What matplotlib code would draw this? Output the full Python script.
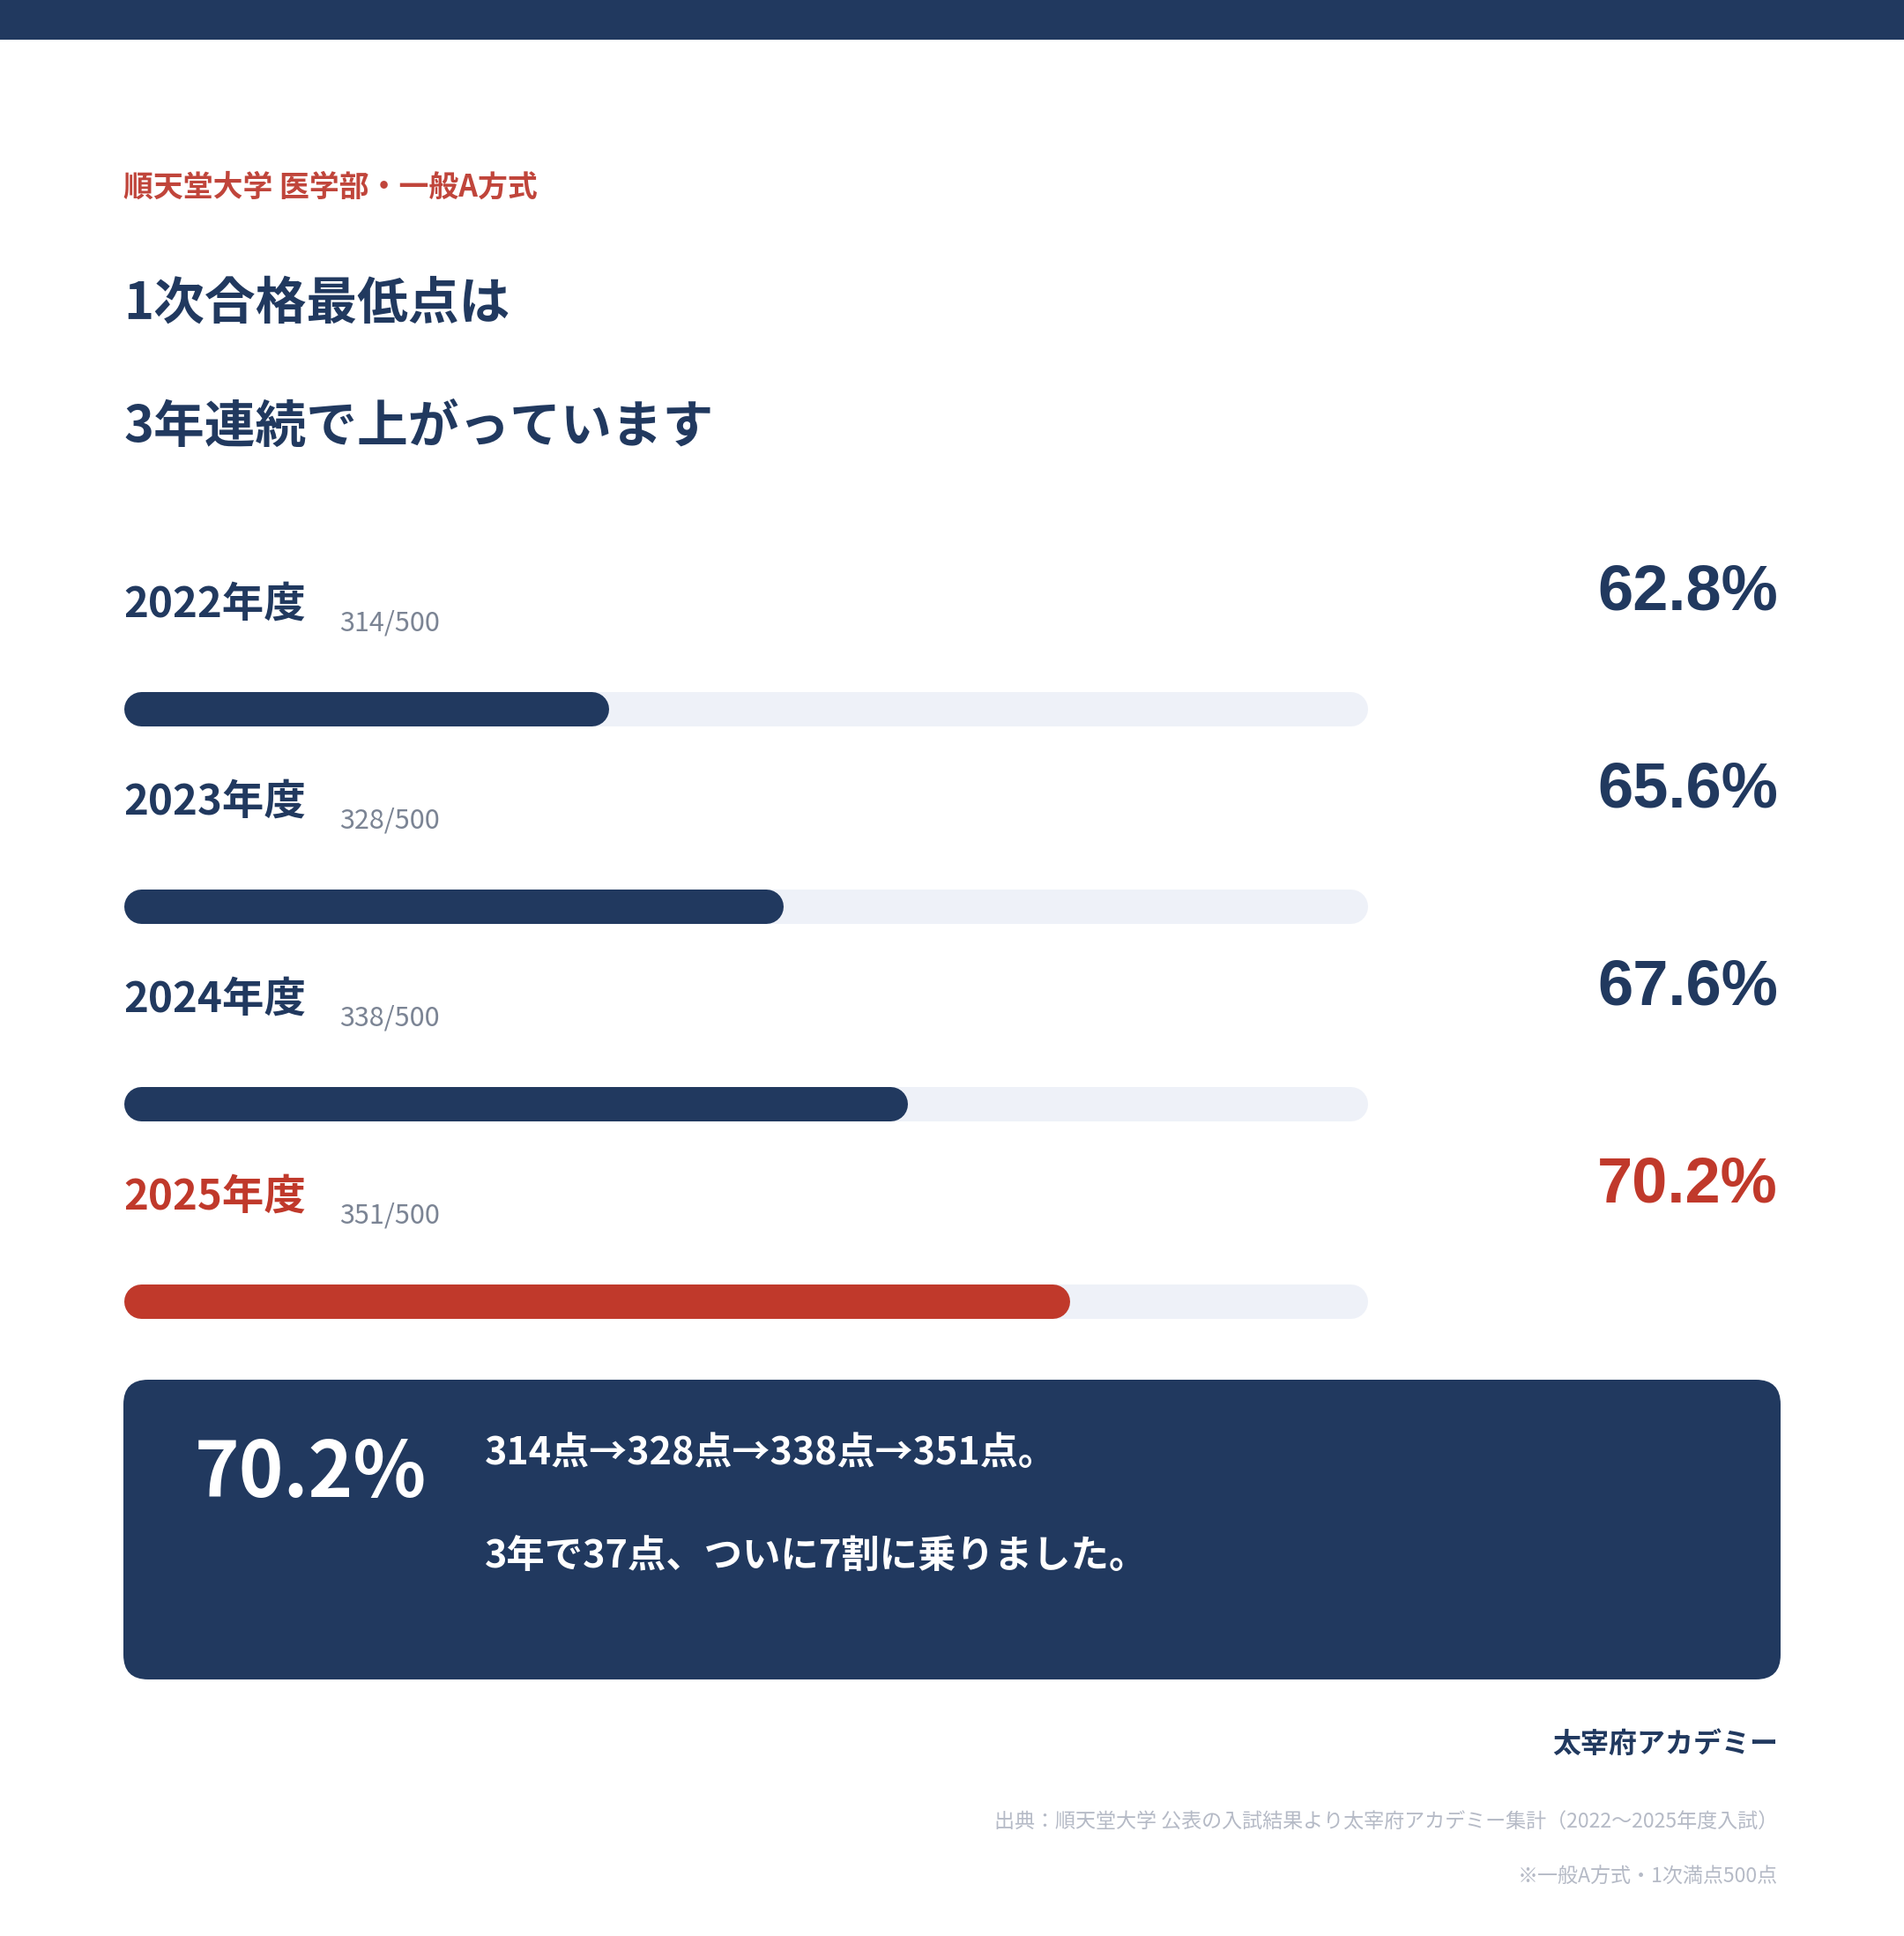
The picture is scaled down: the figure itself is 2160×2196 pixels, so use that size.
import matplotlib.pyplot as plt
from matplotlib.patches import FancyBboxPatch, Rectangle

# chart values
years = ['2022年度', '2023年度', '2024年度', '2025年度']
scores = [314, 328, 338, 351]
full_marks = 500
rates = [62.8, 65.6, 67.6, 70.2]
scale_min, scale_max = 55, 75

subtitle = '順天堂大学 医学部・一般A方式'
title_lines = ['1次合格最低点は', '3年連続で上がっています']
brand = '太宰府アカデミー'
source = '出典：順天堂大学 公表の入試結果より太宰府アカデミー集計（2022〜2025年度入試）'
note = '※一般A方式・1次満点500点'

NAVY = '#21395f'
RED = '#c0392b'
TRACK = '#eef1f8'
GRAY = '#7b8494'
LIGHT = '#b5bac6'
JP = ['Noto Sans CJK JP', 'DejaVu Sans']
NUM = ['Liberation Sans', 'DejaVu Sans']

W, H, DPI = 2160, 2196, 200


def main():
    fig = plt.figure(figsize=(W / DPI, H / DPI), dpi=DPI, facecolor='white')
    ax = fig.add_axes([0, 0, 1, 1])
    ax.set_xlim(0, W)
    ax.set_ylim(H, 0)
    ax.axis('off')

    # top band
    ax.add_patch(Rectangle((0, 0), W, 45, color=NAVY, lw=0))

    ax.text(140, 212, subtitle, family=JP, fontsize=12.2, weight='bold',
            color='#c0453b', va='center')
    ax.text(140, 345, title_lines[0], family=JP, fontsize=20.8, weight='bold',
            color=NAVY, va='center')
    ax.text(140, 485, title_lines[1], family=JP, fontsize=20.8, weight='bold',
            color=NAVY, va='center')

    # bars on their own axis (55%..75%)
    left, right = 140, 1552
    bax = fig.add_axes([left / W, 0, (right - left) / W, 1])
    bax.set_xlim(scale_min, scale_max)
    bax.set_ylim(H, 0)
    bax.axis('off')
    bar_h = 39
    lw = bar_h * 72 / DPI
    r = (bar_h / 2) / ((right - left) / (scale_max - scale_min))

    row0, step = 686, 224
    for i, (yr, sc, rt) in enumerate(zip(years, scores, rates)):
        y = row0 + i * step
        col = RED if i == len(years) - 1 else NAVY
        ax.text(140, y, yr, family=JP, fontsize=17.1, weight='bold',
                color=col, va='center')
        ax.text(385, y + 21, f'{sc}/{full_marks}', family=JP, fontsize=11,
                color=GRAY, va='center')
        ax.text(2017, y - 14, f'{rt:.1f}%', family=NUM, fontsize=26,
                weight='bold', color=col, va='center', ha='right')
        by = 804 + i * step
        bax.plot([scale_min + r, scale_max - r], [by, by], color=TRACK,
                 lw=lw, solid_capstyle='round')
        bax.plot([scale_min + r, rt - r], [by, by], color=col,
                 lw=lw, solid_capstyle='round')

    # summary box
    ax.add_patch(FancyBboxPatch((140, 1565), 1880, 340,
                                boxstyle='round,pad=0,rounding_size=28',
                                fc=NAVY, ec='none'))
    ax.text(221, 1673, f'{rates[-1]:.1f}%', family=JP, fontsize=31,
            weight='bold', color='white', va='center')
    line1 = '→'.join(f'{s}点' for s in scores) + '。'
    line2 = f'3年で{scores[-1] - scores[0]}点、ついに7割に乗りました。'
    ax.text(550, 1648, line1, family=JP, fontsize=15.5, weight='bold',
            color='white', va='center')
    ax.text(550, 1766, line2, family=JP, fontsize=15.6, weight='bold',
            color='white', va='center')

    ax.text(2017, 1979, brand, family=JP, fontsize=11.5, weight='bold',
            color=NAVY, va='center', ha='right')
    ax.text(2017, 2066, source, family=JP, fontsize=8.3, color=LIGHT,
            va='center', ha='right')
    ax.text(2017, 2129, note, family=JP, fontsize=8.3, color=LIGHT,
            va='center', ha='right')

    fig.savefig('out.png', dpi=DPI, facecolor='white')


if __name__ == "__main__":
    main()
